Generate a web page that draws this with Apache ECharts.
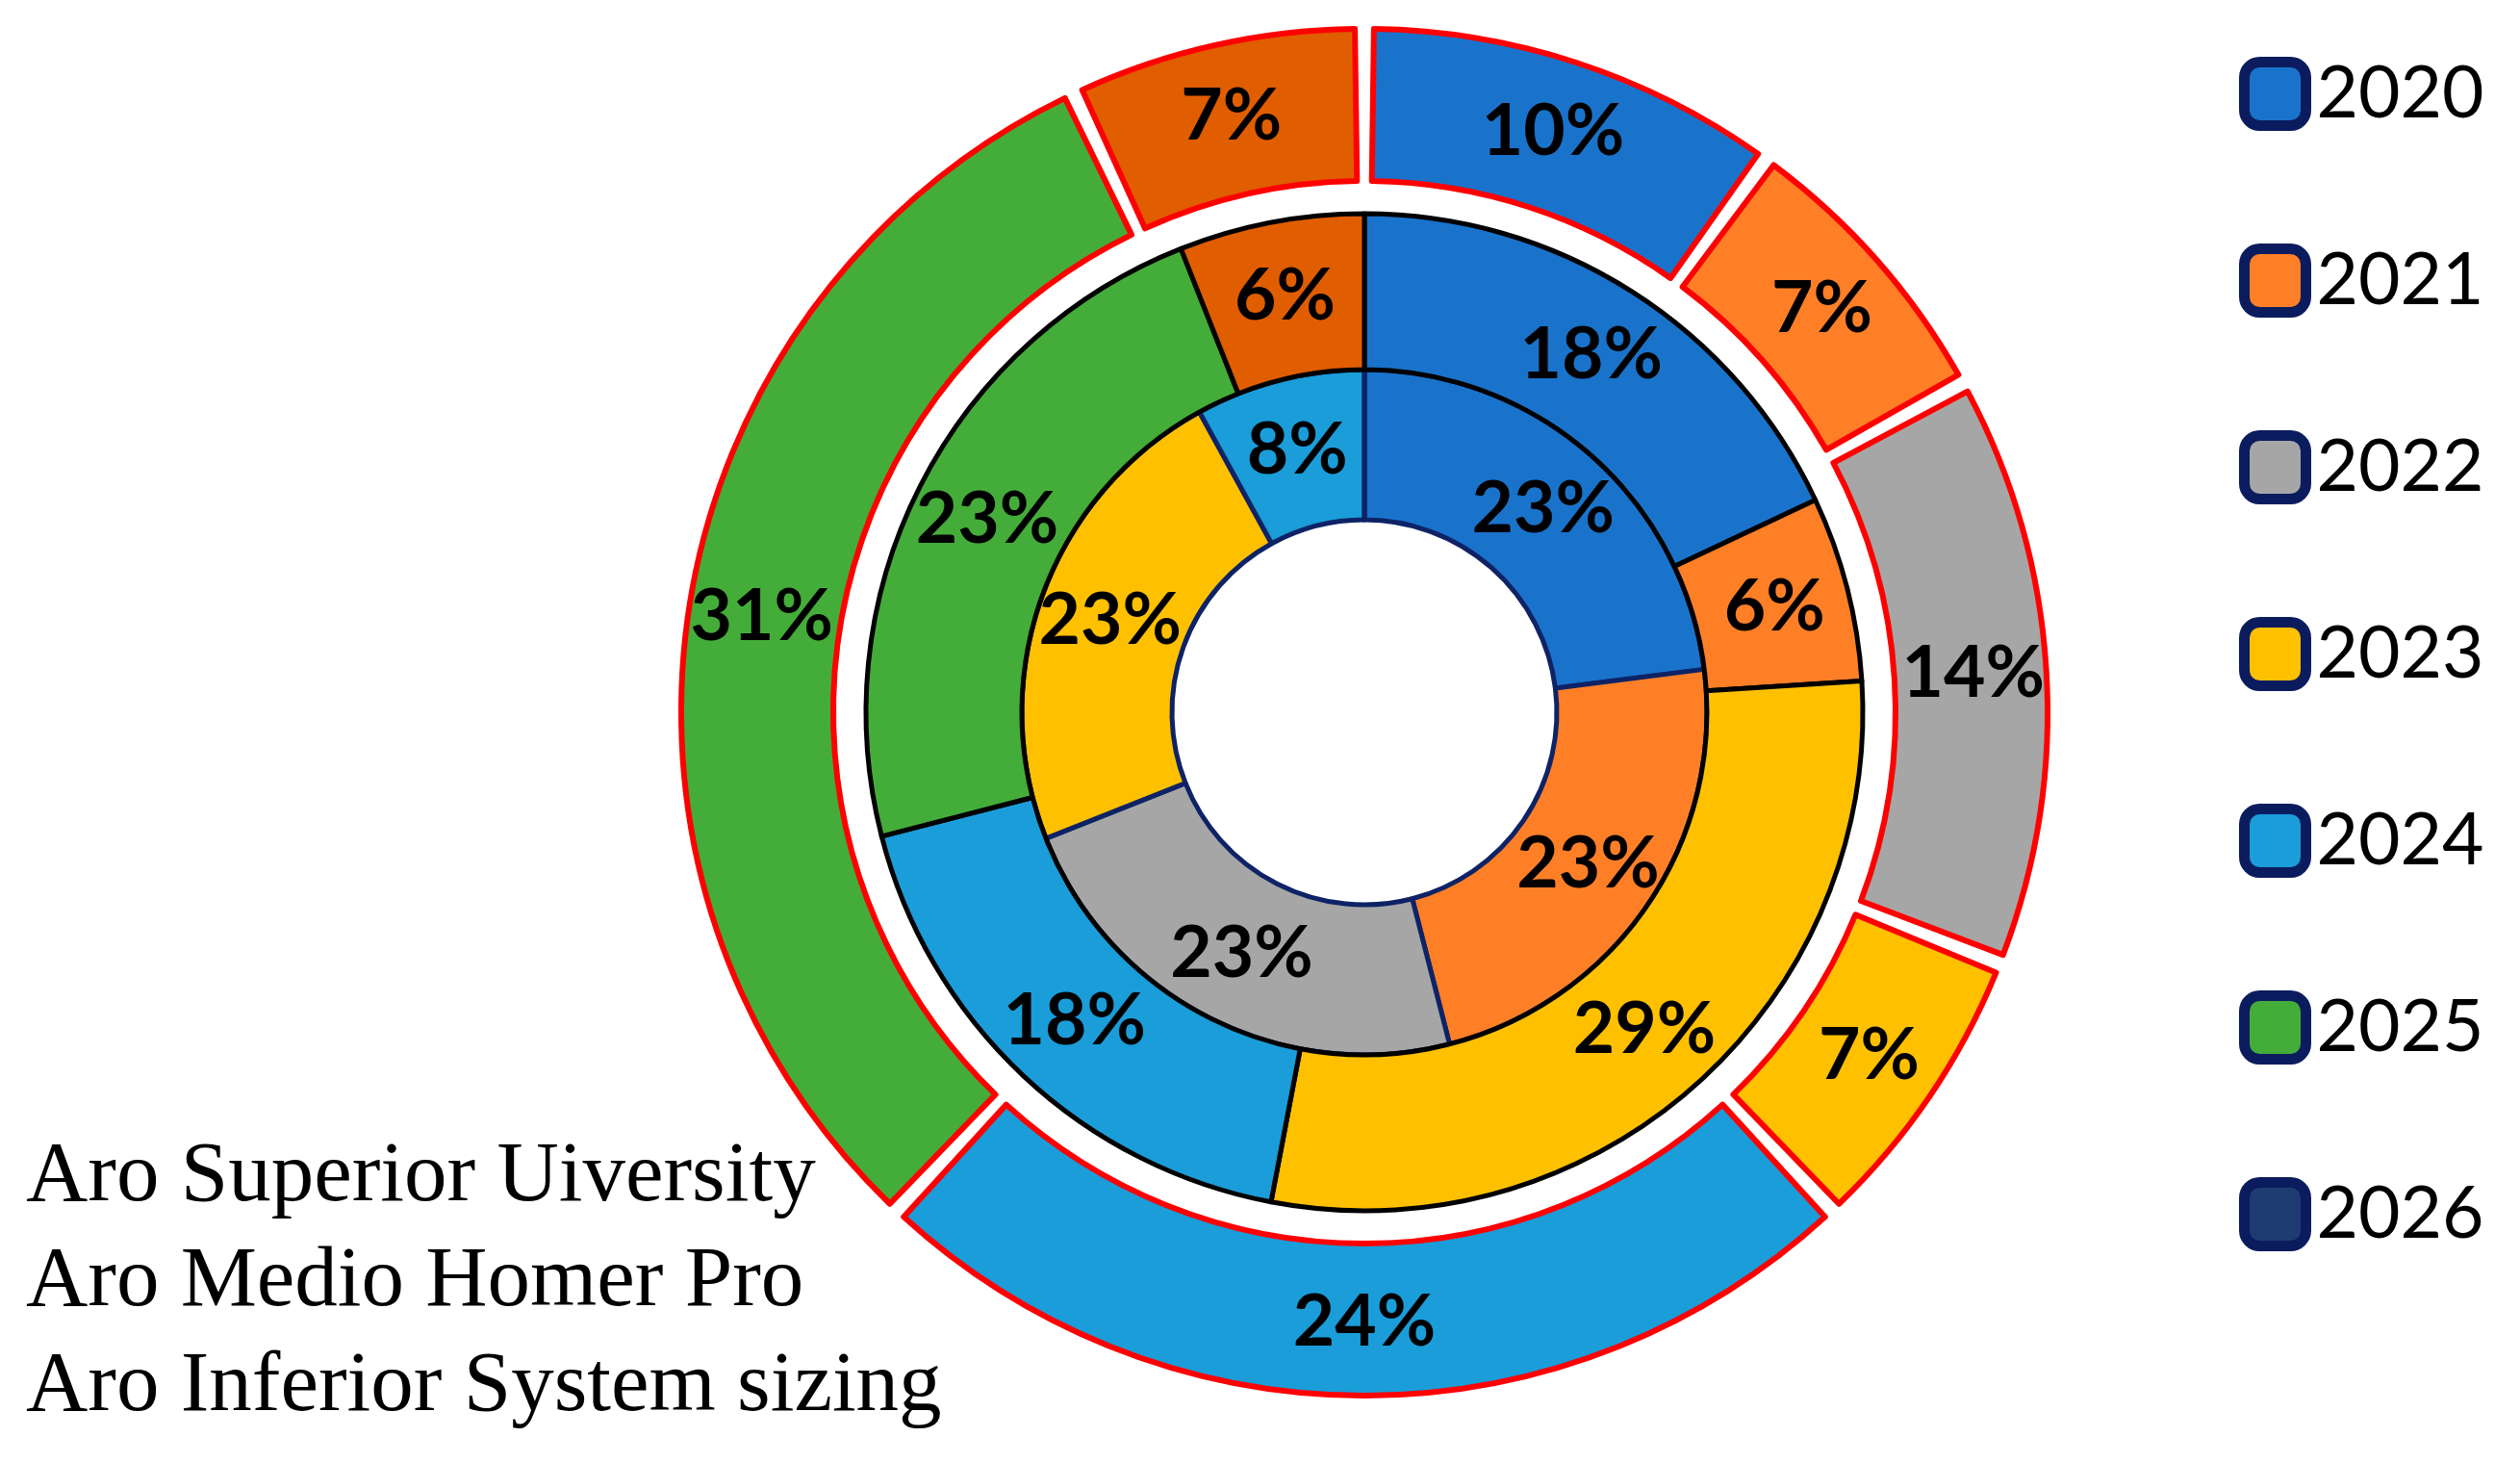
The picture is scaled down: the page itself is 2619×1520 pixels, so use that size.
<!DOCTYPE html>
<html>
<head>
<meta charset="utf-8">
<script src="https://cdn.jsdelivr.net/npm/echarts@6/dist/echarts.min.js"></script>
<style>
  html, body { margin: 0; padding: 0; background: #fff; }
  #chart { width: 2619px; height: 1520px; }
</style>
</head>
<body>
<div id="chart"></div>
<script>
// legend entries
const years = ['2020', '2021', '2022', '2023', '2024', '2025', '2026'];

// inner ring (clockwise from 12 o'clock)
const innerNames = ['2020', '2021', '2022', '2023', '2024', '2026'];
const innerValues = [23, 23, 23, 23, 8, 0];

// middle ring
const middleNames = ['2020', '2021', '2023', '2024', '2025', 'Other'];
const middleValues = [18, 6, 29, 18, 23, 6];

// outer ring
const outerNames = ['2020', '2021', '2022', '2023', '2024', '2025', 'Other'];
const outerValues = [10, 7, 14, 7, 24, 31, 7];

const noteLines = ['Aro Superior Uiversity', 'Aro Medio Homer Pro', 'Aro Inferior System sizing'];

const colors = {
  '2020': '#1A73CB',
  '2021': '#FF7F27',
  '2022': '#A6A6A6',
  '2023': '#FFC000',
  '2024': '#1A9DD9',
  '2025': '#44AD39',
  '2026': '#1E3C72',
  'Other': '#E05D00'
};

function ringData(names, values) {
  return names.map((name, i) => ({
    name,
    value: values[i],
    itemStyle: { color: colors[name] },
    label: { show: values[i] > 0 }
  }));
}

const labelStyle = {
  position: 'inside',
  formatter: '{c}%',
  color: '#000',
  fontFamily: 'Lato',
  fontWeight: 'bold',
  fontSize: 75
};

const center = [1418, 740];

const chart = echarts.init(document.getElementById('chart'));
chart.setOption({
  animation: false,
  title: {
    text: noteLines.join('\n'),
    left: 22,
    top: 1164,
    textStyle: {
      fontFamily: 'Liberation Serif',
      fontWeight: 'normal',
      fontSize: 89,
      lineHeight: 109,
      color: '#000'
    }
  },
  legend: {
    orient: 'vertical',
    left: 2322,
    top: 54,
    itemWidth: 64,
    itemHeight: 66,
    itemGap: 117,
    icon: 'roundRect',
    selectedMode: false,
    data: years.map(y => ({ name: y, itemStyle: { color: colors[y] } })),
    itemStyle: { borderColor: '#0B1C5E', borderWidth: 11 },
    textStyle: {
      fontFamily: 'Lato',
      fontSize: 75,
      lineHeight: 76,
      padding: [0, 0, 0, 6],
      color: '#000'
    }
  },
  series: [
    {
      type: 'pie',
      name: 'inner',
      center,
      radius: [200, 356],
      startAngle: 90,
      silent: true,
      data: ringData(innerNames, innerValues),
      itemStyle: { borderColor: '#0E2366', borderWidth: 5 },
      label: labelStyle,
      labelLine: { show: false }
    },
    {
      type: 'pie',
      name: 'middle',
      center,
      radius: [356, 518],
      startAngle: 90,
      silent: true,
      data: ringData(middleNames, middleValues),
      itemStyle: { borderColor: '#000', borderWidth: 5 },
      label: labelStyle,
      labelLine: { show: false }
    },
    {
      type: 'pie',
      name: 'outer',
      center,
      radius: [552, 710],
      startAngle: 90,
      padAngle: 1.6,
      silent: true,
      data: ringData(outerNames, outerValues),
      itemStyle: { borderColor: '#FF0000', borderWidth: 6 },
      label: labelStyle,
      labelLine: { show: false }
    }
  ]
});
</script>
</body>
</html>
